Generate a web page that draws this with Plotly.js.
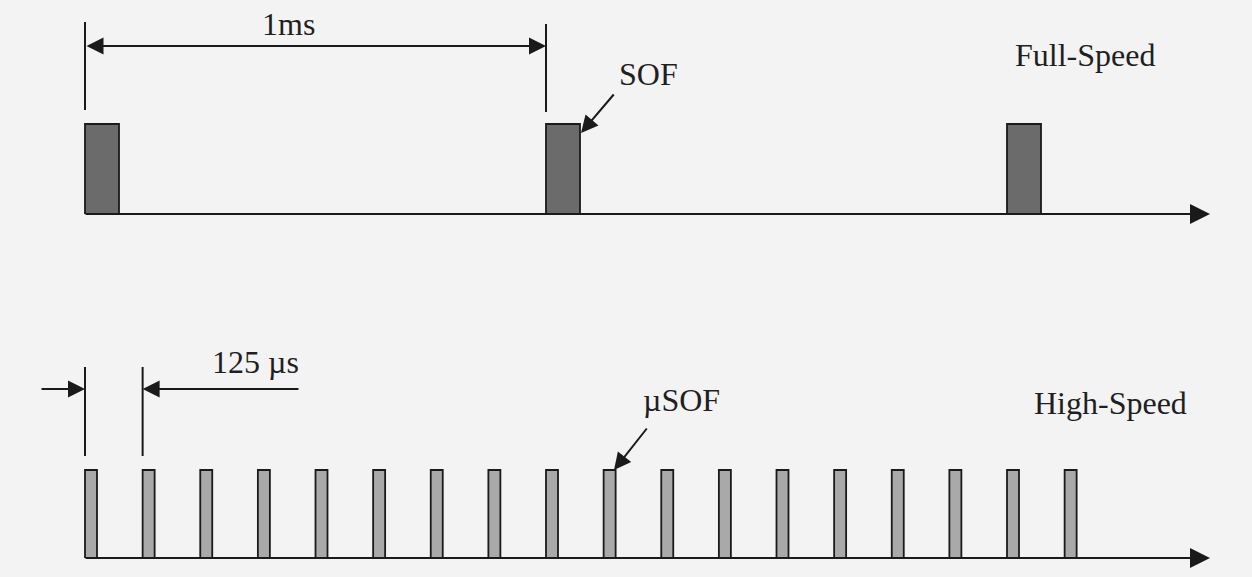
<!DOCTYPE html>
<html>
<head>
<meta charset="utf-8">
<script src="https://cdn.plot.ly/plotly-3.0.1.min.js"></script>
<style>html,body{margin:0;padding:0;background:#f3f3f3;}#chart{width:1252px;height:577px;}</style>
</head>
<body>
<div id="chart"></div>
<script>
// ---- data (time in ms) ----
const fsFrameStart = [0, 1, 2];          // Full-Speed SOF every 1 ms
const fsPulse      = [1, 1, 1];
const hsFrameStart = [0, 0.125, 0.25, 0.375, 0.5, 0.625, 0.75, 0.875, 1, 1.125,
                      1.25, 1.375, 1.5, 1.625, 1.75, 1.875, 2, 2.125]; // µSOF every 125 µs
const hsPulse      = [1, 1, 1, 1, 1, 1, 1, 1, 1, 1, 1, 1, 1, 1, 1, 1, 1, 1];
const labels = {fs: 'Full-Speed', hs: 'High-Speed', sof: 'SOF', usof: 'µSOF', ms: '1ms', us: '125 µs'};

const W = 1252, H = 577;
const pxPerMs = 461, x0px = 85;
const fsBase = 214, fsH = 90;   // pixel baseline / pulse height
const hsBase = 558, hsH = 88;
const tx = px => (px - x0px) / pxPerMs;
const fy = py => (fsBase - py) / fsH;
const hy = py => (hsBase - py) / hsH;

const ink = '#1a1a1a';
const font = {family: 'Liberation Serif, Times New Roman, serif', size: 32, color: '#1f1f1f'};

const traces = [
  {type: 'bar', x: fsFrameStart, y: fsPulse, width: 34 / pxPerMs, offset: 0,
   marker: {color: '#6b6b6b', line: {color: ink, width: 1.8}}, xaxis: 'x', yaxis: 'y',
   hoverinfo: 'skip', showlegend: false},
  {type: 'bar', x: hsFrameStart, y: hsPulse, width: 12 / pxPerMs, offset: 0,
   marker: {color: '#a9a9a9', line: {color: ink, width: 1.8}}, xaxis: 'x', yaxis: 'y2',
   hoverinfo: 'skip', showlegend: false}
];

function arrow(xref, yref, x, y, ax, ay, both, size) {
  return {xref, yref, axref: xref, ayref: yref, x, y, ax, ay, text: '',
    showarrow: true, arrowhead: 2, arrowsize: size || 1.7, arrowwidth: 2, arrowcolor: ink,
    arrowside: both ? 'end+start' : 'end', standoff: 0, startstandoff: 0};
}
function label(xref, yref, x, y, text, xanchor) {
  return {xref, yref, x, y, text, showarrow: false, font, xanchor: xanchor || 'center', yanchor: 'middle'};
}
function vline(yref, x, y0, y1) {
  return {type: 'line', xref: 'x', yref, x0: x, x1: x, y0, y1, line: {color: ink, width: 2}};
}

const annotations = [
  // axes with arrow heads
  arrow('x', 'y', tx(1210), 0, tx(84), 0, false, 2),
  arrow('x', 'y2', tx(1210), 0, tx(84), 0, false, 2),
  // 1 ms dimension
  arrow('x', 'y', fsFrameStart[1], fy(46), fsFrameStart[0], fy(46), true),
  label('x', 'y', tx(288), fy(24), labels.ms),
  // 125 µs dimension
  arrow('x', 'y2', hsFrameStart[0], hy(389), tx(40), hy(389)),
  arrow('x', 'y2', hsFrameStart[1], hy(389), tx(300), hy(389)),
  label('x', 'y2', tx(255), hy(362), labels.us),
  // SOF pointer
  arrow('x', 'y', tx(581), fy(133), tx(615), fy(93)),
  label('x', 'y', tx(617), fy(74), labels.sof, 'left'),
  // µSOF pointer
  arrow('x', 'y2', tx(614), hy(470), tx(648), hy(427)),
  label('x', 'y2', tx(681), hy(400), labels.usof),
  // speed labels
  label('x', 'y', tx(1085), fy(55), labels.fs),
  label('x', 'y2', tx(1110), hy(403), labels.hs)
];

const shapes = [
  vline('y', fsFrameStart[0], fy(110), fy(22)),
  vline('y', fsFrameStart[1], fy(112), fy(24)),
  vline('y2', hsFrameStart[0], hy(456), hy(367)),
  vline('y2', hsFrameStart[1], hy(456), hy(367))
];

const hidden = {showgrid: false, zeroline: false, showticklabels: false, ticks: '', showline: false, fixedrange: true};
const layout = {
  width: W, height: H,
  margin: {l: 0, r: 0, t: 0, b: 0},
  paper_bgcolor: '#f3f3f3', plot_bgcolor: 'rgba(0,0,0,0)',
  bargap: 0,
  xaxis: Object.assign({range: [tx(0), tx(W)], domain: [0, 1]}, hidden),
  yaxis: Object.assign({range: [0, fsBase / fsH], domain: [(H - fsBase) / H, 1]}, hidden),
  yaxis2: Object.assign({range: [0, (hsBase - 260) / hsH], domain: [(H - hsBase) / H, (H - 260) / H]}, hidden),
  annotations, shapes
};

Plotly.newPlot('chart', traces, layout, {displayModeBar: false, staticPlot: true});
</script>
</body>
</html>
